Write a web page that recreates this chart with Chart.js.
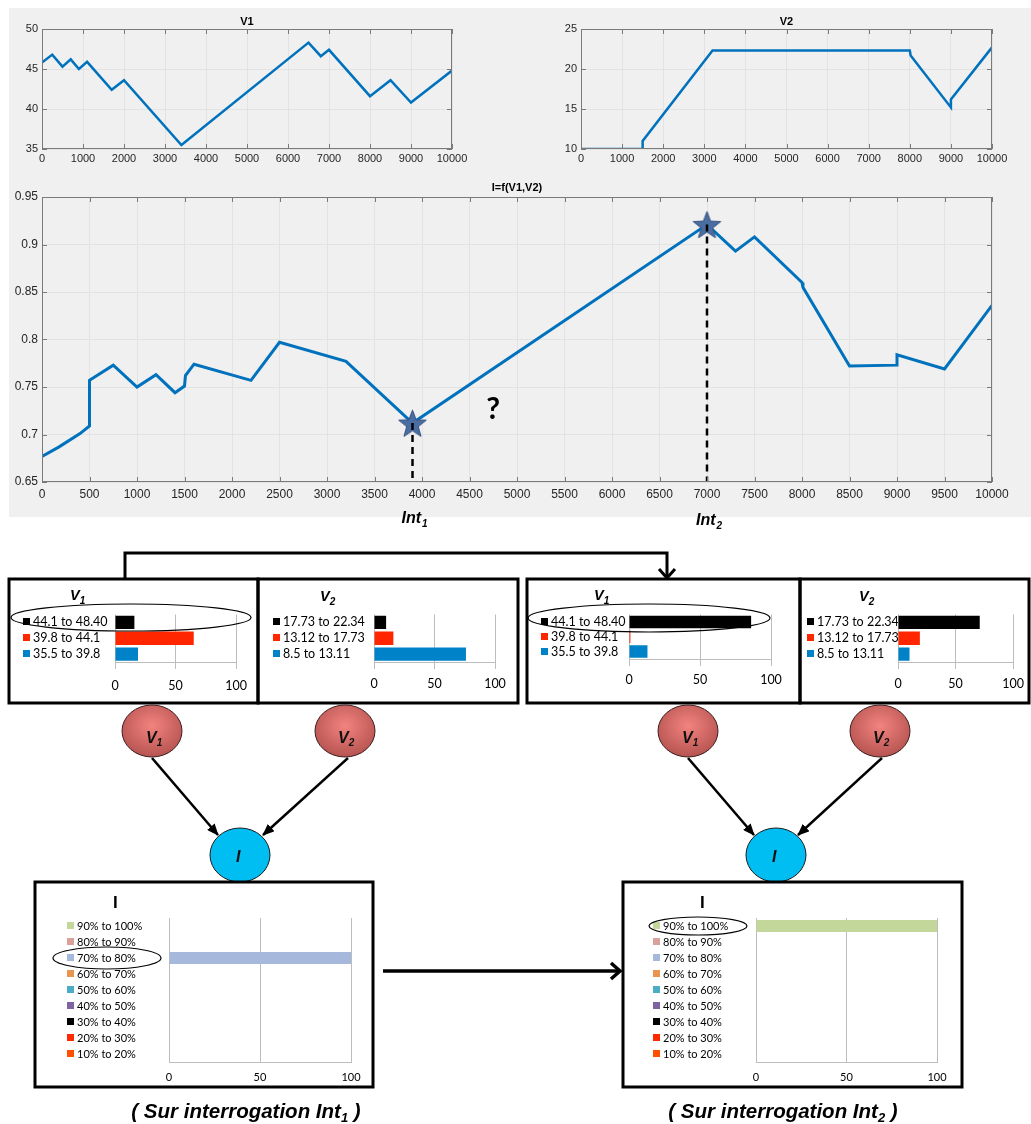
<!DOCTYPE html>
<html>
<head>
<meta charset="utf-8">
<script src="https://cdn.jsdelivr.net/npm/chart.js@4.4.1/dist/chart.umd.min.js"></script>
<style>
    body { margin: 0; background: #fff; }
    #page { position: relative; width: 1031px; height: 1124px; overflow: hidden; }
    #gray { position: absolute; left: 9px; top: 8px; width: 1022px; height: 509px; background: #f0f0f0; }
    canvas { position: absolute; display: block; }
    svg { position: absolute; left: 0; top: 0; }
</style>
</head>
<body>
<div id="page">
<div id="gray"></div>
<svg width="1031" height="1124" font-family="Liberation Sans, Arial, sans-serif">
    <defs>
        <radialGradient id="redNode" cx="50%" cy="40%" r="60%">
            <stop offset="0" stop-color="#f3837f"/>
            <stop offset="1" stop-color="#b65451"/>
        </radialGradient>
        <marker id="head" markerWidth="12" markerHeight="10" refX="11" refY="5" orient="auto" markerUnits="userSpaceOnUse">
            <path d="M0,0 L12,5 L0,10 z" fill="#000"/>
        </marker>
    </defs>
    <!-- connector between the two snapshots -->
    <polyline points="125,579 125,553 667,553 667,577" fill="none" stroke="#000" stroke-width="3"/>
    <path d="M659,569 L667,578 L675,569" fill="none" stroke="#000" stroke-width="3"/>
    <!-- evidence boxes -->
    <rect x="9" y="579" width="249" height="124" fill="none" stroke="#000" stroke-width="3"/>
    <rect x="258" y="579" width="260" height="124" fill="none" stroke="#000" stroke-width="3"/>
    <rect x="527" y="579" width="273" height="124" fill="none" stroke="#000" stroke-width="3"/>
    <rect x="800" y="579" width="229" height="124" fill="none" stroke="#000" stroke-width="3"/>
    <text x="70" y="600" font-size="14.5" font-weight="bold" font-style="italic">V<tspan font-size="10" dy="4">1</tspan></text>
    <text x="320" y="601" font-size="14.5" font-weight="bold" font-style="italic">V<tspan font-size="10" dy="4">2</tspan></text>
    <text x="594" y="600" font-size="14.5" font-weight="bold" font-style="italic">V<tspan font-size="10" dy="4">1</tspan></text>
    <text x="859" y="601" font-size="14.5" font-weight="bold" font-style="italic">V<tspan font-size="10" dy="4">2</tspan></text>
    <!-- network -->
    <line x1="152" y1="758" x2="218" y2="835" stroke="#000" stroke-width="2.5" marker-end="url(#head)"/>
    <line x1="348" y1="758" x2="263" y2="835" stroke="#000" stroke-width="2.5" marker-end="url(#head)"/>
    <line x1="688" y1="758" x2="754" y2="835" stroke="#000" stroke-width="2.5" marker-end="url(#head)"/>
    <line x1="882" y1="758" x2="798" y2="835" stroke="#000" stroke-width="2.5" marker-end="url(#head)"/>
    <ellipse cx="152" cy="731" rx="30" ry="26" fill="url(#redNode)" stroke="#3a2020" stroke-width="1"/>
    <ellipse cx="345" cy="731" rx="30" ry="26" fill="url(#redNode)" stroke="#3a2020" stroke-width="1"/>
    <ellipse cx="688" cy="731" rx="30" ry="26" fill="url(#redNode)" stroke="#3a2020" stroke-width="1"/>
    <ellipse cx="880" cy="731" rx="30" ry="26" fill="url(#redNode)" stroke="#3a2020" stroke-width="1"/>
    <ellipse cx="240" cy="855" rx="30" ry="27" fill="#00bdf2" stroke="#1a1a1a" stroke-width="1"/>
    <ellipse cx="776" cy="855" rx="30" ry="27" fill="#00bdf2" stroke="#1a1a1a" stroke-width="1"/>
    <g font-size="16" font-weight="bold" font-style="italic" fill="#111">
        <text x="146" y="743">V<tspan font-size="10" dy="3">1</tspan></text>
        <text x="338" y="743">V<tspan font-size="10" dy="3">2</tspan></text>
        <text x="682" y="743">V<tspan font-size="10" dy="3">1</tspan></text>
        <text x="873" y="743">V<tspan font-size="10" dy="3">2</tspan></text>
        <text x="236" y="862">I</text>
        <text x="772" y="862">I</text>
    </g>
    <!-- result boxes -->
    <rect x="35" y="882" width="338" height="205" fill="none" stroke="#000" stroke-width="3"/>
    <rect x="623" y="882" width="339" height="205" fill="none" stroke="#000" stroke-width="3"/>
    <text x="113" y="908" font-size="17" font-weight="bold">I</text>
    <text x="700" y="908" font-size="17" font-weight="bold">I</text>
    <line x1="383" y1="971" x2="619" y2="971" stroke="#000" stroke-width="3.5"/>
    <path d="M611,963 L620,971 L611,979" fill="none" stroke="#000" stroke-width="3.5"/>
    <text x="246" y="1118" text-anchor="middle" font-size="20.5" font-weight="bold" font-style="italic">( Sur interrogation Int<tspan font-size="13" dy="4">1</tspan><tspan dy="-4"> )</tspan></text>
    <text x="783" y="1118" text-anchor="middle" font-size="20.5" font-weight="bold" font-style="italic">( Sur interrogation Int<tspan font-size="13" dy="4">2</tspan><tspan dy="-4"> )</tspan></text>
</svg>
</div>
<script>
"use strict";

// ---- values ----
const v1X = [0, 250, 500, 700, 900, 1100, 1700, 2000, 3400, 6500, 6800, 7000, 8000, 8500, 9000, 10000];
const v1Y = [45.8, 46.8, 45.3, 46.2, 45.0, 45.9, 42.4, 43.6, 35.5, 48.3, 46.6, 47.4, 41.6, 43.6, 40.8, 44.8];

const v2X = [0, 1500, 1500, 3200, 8000, 8020, 9000, 9000, 10000];
const v2Y = [10, 10, 11, 22.3, 22.3, 21.7, 15.2, 16.2, 22.7];

const iX = [0, 180, 400, 500, 500, 750, 1000, 1200, 1400, 1500, 1510, 1600, 2200, 2500, 3200, 3900, 7000, 7300, 7500, 8000, 8010, 8500, 9000, 9000, 9500, 10000];
const iY = [0.677, 0.687, 0.701, 0.709, 0.757, 0.773, 0.750, 0.763, 0.744, 0.751, 0.762, 0.774, 0.757, 0.797, 0.777, 0.712, 0.921, 0.893, 0.908, 0.860, 0.855, 0.772, 0.773, 0.784, 0.769, 0.836];

const intX = [3900, 7000];
const intY = [0.712, 0.921];
const intNames = ['1', '2'];

const v1Ranges = ['44.1 to 48.40', '39.8 to 44.1', '35.5 to 39.8'];
const v2Ranges = ['17.73 to 22.34', '13.12 to 17.73', '8.5 to 13.11'];
const rangeColors = ['#000000', '#ff2600', '#0082c8'];
const int1V1 = [16, 65, 19];
const int1V2 = [10, 16, 76];
const int2V1 = [86, 1, 13];
const int2V2 = [71, 19, 10];

const iRanges = ['90% to 100%', '80% to 90%', '70% to 80%', '60% to 70%', '50% to 60%', '40% to 50%', '30% to 40%', '20% to 30%', '10% to 20%'];
const iColors = ['#c4d79b', '#d9a09c', '#a6b9dd', '#e8964f', '#4bacc6', '#8064a2', '#000000', '#ff2a00', '#ff5000'];
const int1I = [0, 0, 100, 0, 0, 0, 0, 0, 0];
const int2I = [100, 0, 0, 0, 0, 0, 0, 0, 0];

const MATLAB_BLUE = '#0072bd';
const HELV = '"Liberation Sans", Arial, sans-serif';

Chart.defaults.font.family = HELV;

const makeCanvas = (x, y, w, h) => {
    const c = document.createElement('canvas');
    c.width = w; c.height = h;
    c.style.left = x + 'px'; c.style.top = y + 'px';
    c.style.width = w + 'px'; c.style.height = h + 'px';
    document.getElementById('page').insertBefore(c, document.querySelector('svg'));
    return c;
};

const xy = (xs, ys) => xs.map((x, i) => ({x: x, y: ys[i]}));

// box + inward ticks + title, matlab look
const matlabFrame = {
    id: 'matlabFrame',
    afterDatasetsDraw(chart, args, opts) {
        const {ctx, chartArea: a, scales: {x, y}} = chart;
        ctx.save();
        ctx.strokeStyle = '#7a7a7a';
        ctx.lineWidth = 1;
        ctx.beginPath();
        x.ticks.forEach(t => {
            const px = Math.round(x.getPixelForValue(t.value)) + 0.5;
            ctx.moveTo(px, a.top); ctx.lineTo(px, a.top + 5);
            ctx.moveTo(px, a.bottom); ctx.lineTo(px, a.bottom - 5);
        });
        y.ticks.forEach(t => {
            const py = Math.round(y.getPixelForValue(t.value)) + 0.5;
            ctx.moveTo(a.left, py); ctx.lineTo(a.left + 5, py);
            ctx.moveTo(a.right, py); ctx.lineTo(a.right - 5, py);
        });
        ctx.stroke();
        ctx.strokeRect(Math.round(a.left) + 0.5, Math.round(a.top) + 0.5, Math.round(a.width) - 1, Math.round(a.height) - 1);
        ctx.fillStyle = '#000';
        ctx.font = 'bold ' + opts.titleSize + 'px ' + HELV;
        ctx.textAlign = 'center';
        ctx.textBaseline = 'alphabetic';
        ctx.fillText(opts.title, (a.left + a.right) / 2, a.top - opts.titleGap);
        ctx.restore();
    }
};

// "?" and Int labels under the main plot
const intLabels = {
    id: 'intLabels',
    afterDraw(chart) {
        const {ctx, chartArea: a, scales: {x, y}} = chart;
        ctx.save();
        ctx.fillStyle = '#000';
        ctx.textAlign = 'center';
        ctx.font = 'bold 30px Lato, sans-serif';
        ctx.fillText('?', x.getPixelForValue(4750), y.getPixelForValue(0.728) + 11);
        ctx.textAlign = 'left';
        intX.forEach((v, k) => {
            const px = x.getPixelForValue(v) - 11;
            ctx.font = 'bold italic 16px ' + HELV;
            ctx.fillText('Int', px, a.bottom + 41 + k * 2);
            const w = ctx.measureText('Int').width;
            ctx.font = 'bold italic 10px ' + HELV;
            ctx.fillText(intNames[k], px + w + 1, a.bottom + 45 + k * 2);
        });
        ctx.restore();
    }
};

const matlabOptions = o => ({
    responsive: false,
    animation: false,
    events: [],
    layout: {padding: o.pad},
    elements: {line: {tension: 0}},
    plugins: {
        legend: {display: false},
        tooltip: {enabled: false},
        matlabFrame: {title: o.title, titleSize: o.titleSize, titleGap: o.titleGap}
    },
    scales: {
        x: {
            type: 'linear', min: 0, max: 10000,
            ticks: {stepSize: o.xStep, autoSkip: false, maxRotation: 0, padding: o.xPad, color: '#262626', font: {size: o.fs}, callback: v => String(v)},
            grid: {color: '#e3e3e3', drawTicks: false},
            border: {display: false},
            afterFit: s => { s.height = 20; }
        },
        y: {
            min: o.yMin, max: o.yMax,
            ticks: {stepSize: o.yStep, padding: 4, color: '#262626', font: {size: o.fs}, callback: v => String(+v.toFixed(2))},
            grid: {color: '#e3e3e3', drawTicks: false},
            border: {display: false},
            afterFit: s => { s.width = o.yWidth; }
        }
    }
});

// V1 trace: canvas (0,8) 520x167, plot 42..452 x 29..149
new Chart(makeCanvas(0, 8, 520, 167), {
    type: 'line',
    data: {datasets: [{data: xy(v1X, v1Y), borderColor: MATLAB_BLUE, borderWidth: 2.5, pointRadius: 0}]},
    options: matlabOptions({pad: {left: 0, top: 21, right: 68, bottom: 6}, yWidth: 42, yMin: 35, yMax: 50, yStep: 5, xStep: 1000, xPad: 3, fs: 11, title: 'V1', titleSize: 11, titleGap: 4}),
    plugins: [matlabFrame]
});

// V2 trace: canvas (520,8) 511x167, plot 581..992 x 29..149
new Chart(makeCanvas(520, 8, 511, 167), {
    type: 'line',
    data: {datasets: [{data: xy(v2X, v2Y), borderColor: MATLAB_BLUE, borderWidth: 2.5, pointRadius: 0}]},
    options: matlabOptions({pad: {left: 0, top: 21, right: 39, bottom: 6}, yWidth: 61, yMin: 10, yMax: 25, yStep: 5, xStep: 1000, xPad: 3, fs: 11, title: 'V2', titleSize: 11, titleGap: 4}),
    plugins: [matlabFrame]
});

// filled 5-point star used as marker
const starMarker = (size, fill, stroke) => {
    const c = document.createElement('canvas');
    c.width = c.height = size;
    const g = c.getContext('2d');
    const r = size / 2 - 1, cx = size / 2, cy = size / 2 + 1.5;
    g.beginPath();
    for (let i = 0; i < 10; i++) {
        const ang = -Math.PI / 2 + i * Math.PI / 5;
        const rr = i % 2 ? r * 0.42 : r;
        g.lineTo(cx + rr * Math.cos(ang), cy + rr * Math.sin(ang));
    }
    g.closePath();
    g.fillStyle = fill; g.fill();
    g.strokeStyle = stroke; g.lineWidth = 1; g.stroke();
    return c;
};

// main trace: canvas (0,170) 1031x365, plot 42..992 x 197..482
new Chart(makeCanvas(0, 170, 1031, 365), {
    type: 'line',
    data: {
        datasets: [
            ...intX.map((v, k) => ({data: [{x: v, y: intY[k]}, {x: v, y: 0.65}], borderColor: '#000', borderWidth: 2.5, borderDash: [7, 5], pointRadius: 0})),
            {data: xy(intX, intY), showLine: false, pointStyle: starMarker(31, '#4a6da2', '#34507e'), pointRadius: 6},
            {data: xy(iX, iY), borderColor: MATLAB_BLUE, borderWidth: 3, pointRadius: 0}
        ]
    },
    options: matlabOptions({pad: {left: 0, top: 27, right: 39, bottom: 33}, yWidth: 42, yMin: 0.65, yMax: 0.95, yStep: 0.05, xStep: 500, xPad: 5, fs: 12, title: 'I=f(V1,V2)', titleSize: 11, titleGap: 6}),
    plugins: [matlabFrame, intLabels]
});

// little coloured squares in front of the category labels (excel legend look)
const legendSquares = {
    id: 'legendSquares',
    afterDraw(chart, args, opts) {
        const {ctx} = chart, y = chart.scales.y;
        const x0 = chart.options.layout.padding.left - 10;
        ctx.save();
        y.ticks.forEach((t, i) => {
            ctx.fillStyle = opts.colors[i];
            ctx.fillRect(x0, Math.round(y.getPixelForTick(i)) - 4, 7, 7);
        });
        ctx.restore();
    }
};

const barPanel = (labels, values, colors, g) => {
    const [cx, cy, cw, ch] = g.canvas;
    const [pl, pt, pr, pb] = g.plot;
    const font = {family: 'Lato, sans-serif', size: g.fs};
    return new Chart(makeCanvas(cx, cy, cw, ch), {
        type: 'bar',
        data: {labels: labels, datasets: [{data: values, backgroundColor: colors, barPercentage: g.bar, categoryPercentage: 1}]},
        options: {
            indexAxis: 'y',
            responsive: false,
            animation: false,
            events: [],
            layout: {padding: {left: g.textLeft - cx, top: pt - cy, right: cx + cw - pr, bottom: cy + ch - pb - 30}},
            plugins: {legend: {display: false}, tooltip: {enabled: false}, legendSquares: {colors: colors}},
            scales: {
                x: {
                    min: 0, max: 100,
                    ticks: {stepSize: 50, padding: g.tickPad, color: '#000', font: font, maxRotation: 0},
                    grid: {color: '#bdbdbd', drawTicks: g.tickLen > 0, tickLength: g.tickLen},
                    border: {color: '#bdbdbd'},
                    afterFit: s => { s.height = 30; }
                },
                y: {
                    ticks: {crossAlign: 'far', color: '#000', font: font, autoSkip: false},
                    grid: {display: false},
                    border: {display: false},
                    afterFit: s => { s.width = pl - g.textLeft; }
                }
            }
        },
        plugins: [legendSquares]
    });
};

// evidence panels, Int1 then Int2
barPanel(v1Ranges, int1V1, rangeColors, {canvas: [11, 604, 245, 97], plot: [115, 612, 237, 662], textLeft: 33, fs: 12.5, bar: 0.84, tickLen: 7, tickPad: 9});
barPanel(v2Ranges, int1V2, rangeColors, {canvas: [261, 604, 255, 97], plot: [374, 612, 495, 662], textLeft: 283, fs: 12.5, bar: 0.84, tickLen: 7, tickPad: 7});
barPanel(v1Ranges, int2V1, rangeColors, {canvas: [530, 604, 268, 97], plot: [629, 609, 771, 659], textLeft: 551, fs: 12.5, bar: 0.84, tickLen: 7, tickPad: 6});
barPanel(v2Ranges, int2V2, rangeColors, {canvas: [803, 604, 228, 97], plot: [898, 612, 1019, 662], textLeft: 817, fs: 12.5, bar: 0.84, tickLen: 7, tickPad: 7});

// I panels
barPanel(iRanges, int1I, iColors, {canvas: [38, 885, 333, 200], plot: [169, 918, 351, 1062], textLeft: 77, fs: 11, bar: 0.76, tickLen: 0, tickPad: 9});
barPanel(iRanges, int2I, iColors, {canvas: [626, 885, 334, 200], plot: [756, 918, 937, 1062], textLeft: 663, fs: 11, bar: 0.76, tickLen: 0, tickPad: 9});
</script>
<svg width="1031" height="1124" style="pointer-events:none">
    <g fill="none" stroke="#000" stroke-width="1.2">
        <ellipse cx="131" cy="617.5" rx="120" ry="13.5"/>
        <ellipse cx="649" cy="618" rx="121" ry="14"/>
        <ellipse cx="107" cy="958" rx="54" ry="11"/>
        <ellipse cx="698" cy="926" rx="49" ry="9"/>
    </g>
</svg>
</body>
</html>
